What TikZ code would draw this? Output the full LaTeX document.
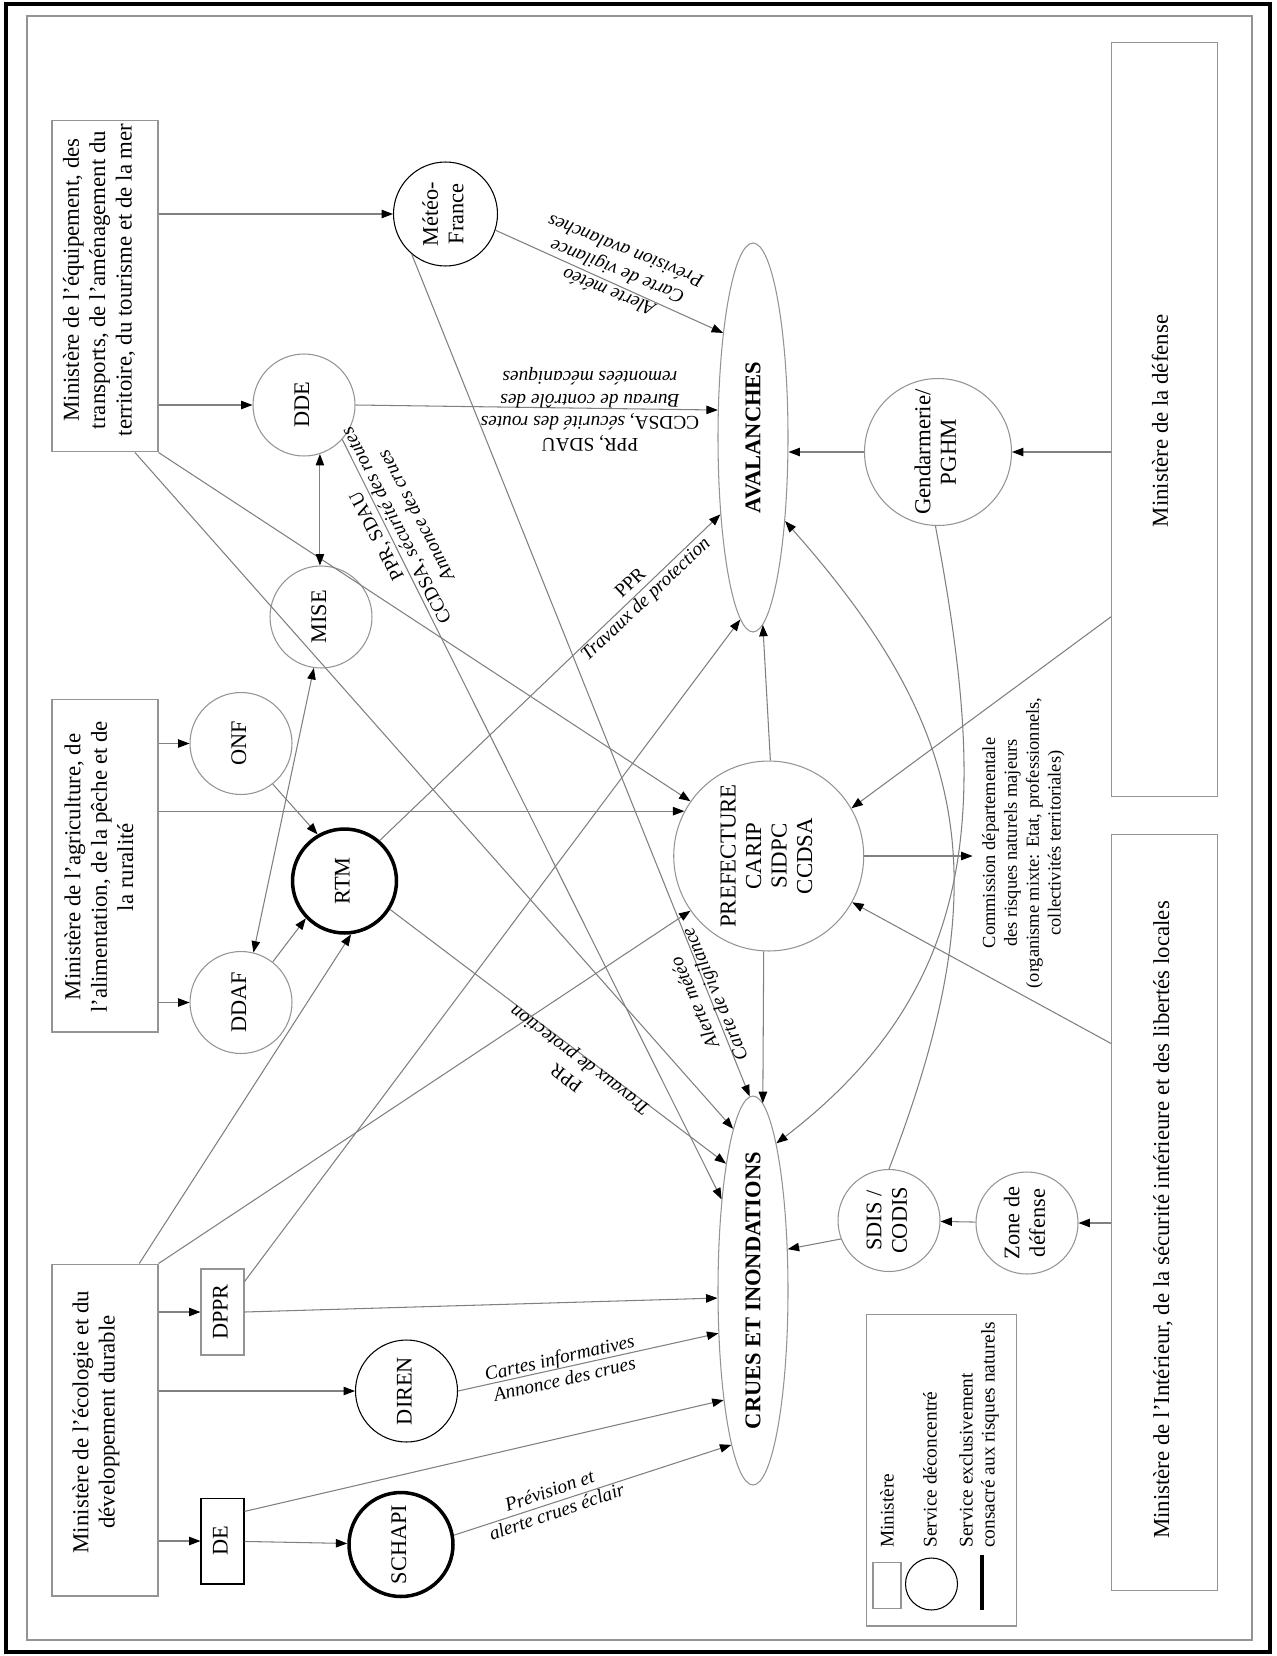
\documentclass[tikz,border=0pt]{standalone}
\usepackage{fontspec}
\setmainfont{Liberation Serif}
\usetikzlibrary{arrows.meta,calc,shapes.geometric}
\newcommand{\vtxt}[1]{\rotatebox{90}{\begin{tabular}{@{}c@{}}#1\end{tabular}}}
\definecolor{ln}{gray}{0.5}
\definecolor{bd}{gray}{0.58}
\begin{document}
\begin{tikzpicture}[x=0.02cm,y=-0.02cm,
  conn/.style={draw=ln, line width=0.6pt, -{Triangle[length=6.5pt,width=4.8pt,color=black]}},
  dconn/.style={draw=ln, line width=0.6pt, {Triangle[length=6.5pt,width=4.8pt,color=black]}-{Triangle[length=6.5pt,width=4.8pt,color=black]}},
  svc/.style={circle, draw=bd, line width=0.6pt, minimum size=2.04cm, inner sep=0pt, font=\fontsize{12.7}{14.5}\selectfont},
  mbox/.style={draw=bd, line width=0.6pt, rectangle, inner sep=0pt, minimum width=2.12cm},
  mtext/.style={rotate=90, align=center, inner sep=0pt, font=\fontsize{13}{15}\selectfont},
  sbox/.style={draw=bd, line width=0.6pt, rectangle, inner sep=0pt, minimum width=0.86cm, minimum height=1.72cm, font=\fontsize{12.7}{14.5}\selectfont},
  hazard/.style={ellipse, draw=bd, line width=0.6pt, minimum width=1.4cm, minimum height=7.78cm, inner sep=0pt},
  hazt/.style={inner sep=0pt, font=\bfseries\fontsize{12.8}{14}\selectfont},
  lbl/.style={align=center, inner sep=0pt, font=\itshape\fontsize{11}{12.6}\selectfont},
  legt/.style={rotate=90, anchor=west, inner sep=0pt, font=\fontsize{11}{12.5}\selectfont}
]
\useasboundingbox (0,0) rectangle (1276,1656);
\fill[white] (0,0) rectangle (1276,1656);
% frames
\draw[line width=2pt] (6,4) rectangle (1270,1652);
\draw[bd, line width=0.6pt] (27,16) rectangle (1252,1640);

% ministries
\node[mbox, minimum height=6.64cm] (meq) at (105,286) {};
\node[mtext] (meqt) at (99,280) {Ministère de l’équipement, des\\transports, de l’aménagement du\\territoire, du tourisme et de la mer};
\node[mbox, minimum height=6.66cm] (magr) at (105,865.5) {};
\node[mtext] (magrt) at (99,867) {Ministère de l’agriculture, de\\l’alimentation, de la pêche et de\\la ruralité};
\node[mbox, minimum height=6.64cm] (meco) at (105,1430) {};
\node[mtext] (mecot) at (96,1422) {Ministère de l’écologie et du\\développement durable};
\node[mbox, minimum height=15.1cm] (mdef) at (1164.5,419.5) {};
\node[mtext] (mdeft) at (1160,421) {Ministère de la défense};
\node[mbox, minimum height=15.12cm] (mint) at (1164.5,1212.6) {};
\node[mtext] (mintt) at (1163,1220) {Ministère de l’Intérieur, de la sécurité intérieure et des libertés locales};

% services
\node[svc, draw=black, minimum size=2.08cm] (meteo) at (445.5,214) {\vtxt{Météo-\\France}};
\node[svc] (dde) at (304,405) {\vtxt{DDE}};
\node[svc] (mise) at (321,617) {\vtxt{MISE}};
\node[svc] (onf) at (241,743.5) {\vtxt{ONF}};
\node[svc] (ddaf) at (241,1002.5) {\vtxt{DDAF}};
\node[svc, draw=black, line width=2pt, minimum size=2.08cm] (rtm) at (344.5,881) {\vtxt{RTM}};
\node[svc, draw=black] (diren) at (406.5,1391) {\vtxt{DIREN}};
\node[svc, draw=black, line width=2pt, minimum size=2.08cm] (schapi) at (401,1544.5) {\vtxt{SCHAPI}};
\node[svc, minimum size=3.8cm, font=\fontsize{13}{14.5}\selectfont] (pref) at (768.7,856) {\vtxt{PREFECTURE\\CARIP\\SIDPC\\CCDSA}};
\node[svc, minimum size=2.94cm, font=\fontsize{13}{14.5}\selectfont] (gend) at (938,452) {\vtxt{Gendarmerie/\\PGHM}};
\node[svc] (sdis) at (889,1220.5) {\vtxt{SDIS /\\CODIS}};
\node[svc] (zone) at (1027,1223) {\vtxt{Zone de\\défense}};
\node[sbox] (dppr) at (222.5,1312) {\vtxt{DPPR}};
\node[sbox, draw=black] (de) at (222.5,1541) {\vtxt{DE}};

% hazards
\node[hazard] (aval) at (753,437.5) {};
\node[hazt] (avalt) at (753,437.5) {\rotatebox{90}{AVALANCHES}};
\node[hazard] (crues) at (753,1290.5) {};
\node[hazt] (cruest) at (753,1290.5) {\rotatebox{90}{CRUES ET INONDATIONS}};

% commission
\node[inner sep=0pt, font=\fontsize{10.5}{12.4}\selectfont] (comm) at (1023.5,843) {\vtxt{Commission départementale\\des risques naturels majeurs\\(organisme mixte: Etat, professionnels,\\collectivités territoriales)}};
\coordinate (commin) at ($(comm.west |- pref.east)+(-7,0)$);

% attachment points
\coordinate (meqb) at ($(meq.south west)!0.78!(meq.south east)$);
\coordinate (mecob) at ($(meco.north west)!0.82!(meco.north east)$);
\coordinate (dpprt) at ($(dppr.north east)!0.15!(dppr.south east)$);
\coordinate (det) at ($(de.north east)!0.16!(de.south east)$);
\coordinate (mdefa) at ($(mdef.north west)!0.761!(mdef.south west)$);
\coordinate (minta) at ($(mint.north west)!0.2765!(mint.south west)$);

% connectors
\draw[conn] (meq.east |- meteo) -- (meteo);
\draw[conn] (meq.east |- dde) -- (dde);
\draw[conn] (meqb) -- (crues.97);
\draw[conn] (meq.south east) -- (pref.145);
\draw[conn] (meteo.342) -- (aval.106);
\draw[conn] (meteo.230) -- (crues.91);
\draw[conn] (dde.east) -- (aval.142);
\draw[conn] (dde.318) -- (crues.109);
\draw[dconn] (dde.288) -- (dde.288 |- mise.north);
\draw[conn] (magr.east |- onf) -- (onf);
\draw[conn] (magr.east |- ddaf) -- (ddaf);
\draw[conn] (magr.east |- pref.152) -- (pref.152);
\draw[conn] (onf.308) -- (rtm.120);
\draw[conn] (ddaf.52) -- (rtm.224);
\draw[dconn] (ddaf.76) -- (mise.262);
\draw[conn] (rtm.49) -- (aval.247);
\draw[conn] (rtm.328) -- (crues.102);
\draw[conn] (mecob) -- (rtm.277);
\draw[conn] (meco.north east) -- (pref.215);
\draw[conn] (meco.east |- dppr) -- (dppr);
\draw[conn] (meco.east |- diren) -- (diren);
\draw[conn] (meco.east |- de) -- (de);
\draw[conn] (dpprt) -- (aval.266);
\draw[conn] (dppr.east) -- (crues.192);
\draw[conn] (diren.east) -- (crues.231);
\draw[conn] (det) -- (crues.255);
\draw[conn] (de) -- (schapi);
\draw[conn] (schapi.10) -- (crues.262);
\draw[conn] (pref.89) -- (aval.273);
\draw[conn] (pref.267) -- (crues.87);
\draw[conn] (pref.east) -- (commin);
\draw[conn] (mdefa) -- (pref.30);
\draw[conn] (minta) -- (pref.331);
\draw[conn] (mdef.west |- gend) -- (gend);
\draw[conn] (gend.west) -- (aval.east |- gend.west);
\draw[conn] (mint.west |- zone) -- (zone);
\draw[conn] (zone) -- (sdis);
\draw[conn] (sdis.201) -- (crues.50);
\draw[conn] (sdis.north) .. controls (1000,880) and (970,730) .. (aval.291);
\draw[conn] (gend.268) .. controls (985,790) and (990,980) .. (crues.81);

% labels
\node[lbl, rotate=158] (l1) at (617,272) {Alerte météo\\Carte de vigilance\\Prévision avalanches};
\node[lbl, rotate=180] (l2) at (590,409.5) {\textup{PPR, SDAU}\\\textup{CCDSA}, sécurité des routes\\Bureau de contrôle des\\remontées mécaniques};
\node[lbl, rotate=117.5] (l3) at (396,526) {\textup{PPR, SDAU}\\\textup{CCDSA}, sécurité des routes\\Annonce des crues};
\node[lbl, rotate=43.5] (l4) at (639,592) {\textup{PPR}\\Travaux de protection};
\node[lbl, rotate=143] (l5) at (574,1068) {\textup{PPR}\\Travaux de protection};
\node[lbl, rotate=13] (l6) at (562,1368) {Cartes informatives\\Annonce des crues};
\node[lbl, rotate=19] (l7) at (553,1501) {Prévision et\\alerte crues éclair};
\node[lbl, rotate=113] (l8) at (706,998) {Alerte météo\\Carte de vigilance};

% legend
\node[draw=bd, line width=0.6pt, minimum width=2.99cm, minimum height=6.24cm, inner sep=0pt] (leg) at (941.3,1470) {};
\node[draw=bd, line width=0.6pt, minimum width=0.56cm, minimum height=0.93cm, inner sep=0pt] (legsq) at (887,1585.3) {};
\node[circle, draw=black, line width=0.6pt, minimum size=1.04cm, inner sep=0pt] (legci) at (931.5,1584) {};
\coordinate (legla) at (982,1555);
\coordinate (leglb) at (982,1610);
\draw[line width=2pt] (legla) -- (leglb);
\node[legt] (legt1) at (887,1548) {Ministère};
\node[legt] (legt2) at (930,1548) {Service déconcentré};
\node[legt, align=left] (legt3) at (979,1548) {Service exclusivement\\consacré aux risques naturels};
\end{tikzpicture}
\end{document}
